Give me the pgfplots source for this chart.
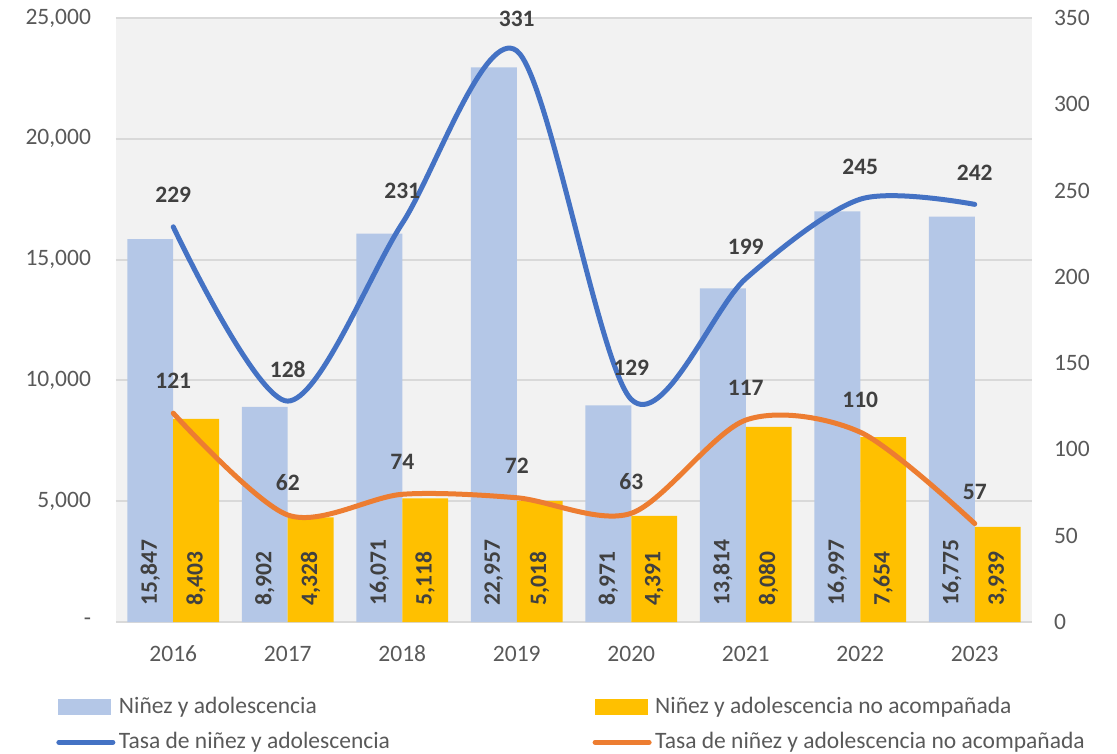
\documentclass[border=0pt]{standalone}
\usepackage{pgfplots}
\pgfplotsset{compat=1.18}
\usepackage{fontspec}
\setmainfont{Carlito}
\definecolor{barblue}{HTML}{B4C7E7}
\definecolor{baryel}{HTML}{FFC000}
\definecolor{lineblue}{HTML}{4472C4}
\definecolor{lineor}{HTML}{ED7D31}
\definecolor{tickgray}{HTML}{595959}
\definecolor{lblgray}{HTML}{404040}
\definecolor{gridgray}{HTML}{D9D9D9}
\definecolor{bggray}{HTML}{F2F2F2}
\pgfplotsset{/pgf/number format/assume math mode=true}
\newcommand{\fs}{\fontsize{11.8}{14}\selectfont}
\begin{document}
\begin{tikzpicture}
\path[use as bounding box] (-58bp,-66bp) rectangle (500.5bp,311bp);
\begin{axis}[
  at={(0,0)}, anchor=south west,
  scale only axis, width=458bp, height=302bp,
  xmin=-0.5, xmax=7.5, ymin=0, ymax=25000,
  axis background/.style={fill=bggray},
  separate axis lines,
  axis x line*=bottom, axis y line*=left,
  y axis line style={draw=none},
  x axis line style={draw=gridgray, line width=1bp},
  ymajorgrids, grid style={draw=gridgray, line width=1bp},
  major tick length=0pt,
  xtick={0,1,2,3,4,5,6,7},
  xticklabels={2016,2017,2018,2019,2020,2021,2022,2023},
  ytick={0,5000,10000,15000,20000,25000},
  yticklabels={{-},{5,000},{10,000},{15,000},{20,000},{25,000}},
  tick label style={font=\fs, text=tickgray},
  yticklabel style={xshift=-9bp},
  xticklabel style={yshift=-8bp, text height=8bp, text depth=0bp},
  /pgf/number format/1000 sep={,},
  clip=false,
]
\addplot[ybar, bar width=0.4, bar shift=-0.2, fill=barblue, draw=none]
  coordinates {(0,15847) (1,8902) (2,16071) (3,22957) (4,8971) (5,13814) (6,16997) (7,16775)};
\addplot[ybar, bar width=0.4, bar shift=0.2, fill=baryel, draw=none]
  coordinates {(0,8403) (1,4328) (2,5118) (3,5018) (4,4391) (5,8080) (6,7654) (7,3939)};
% value labels at the base of each bar
\addplot[draw=none, mark=none, point meta=explicit,
  nodes near coords,
  every node near coord/.append style={font=\bfseries\fs, text=lblgray, rotate=90, anchor=west, inner xsep=8.3bp, inner ysep=2bp}]
  coordinates {(-0.2,0) [15847] (0.8,0) [8902] (1.8,0) [16071] (2.8,0) [22957]
               (3.8,0) [8971] (4.8,0) [13814] (5.8,0) [16997] (6.8,0) [16775]};
\addplot[draw=none, mark=none, point meta=explicit,
  nodes near coords,
  every node near coord/.append style={font=\bfseries\fs, text=lblgray, rotate=90, anchor=west, inner xsep=8.3bp, inner ysep=2bp}]
  coordinates {(0.2,0) [8403] (1.2,0) [4328] (2.2,0) [5118] (3.2,0) [5018]
               (4.2,0) [4391] (5.2,0) [8080] (6.2,0) [7654] (7.2,0) [3939]};
\end{axis}
\begin{axis}[
  at={(0,0)}, anchor=south west,
  scale only axis, width=458bp, height=302bp,
  xmin=-0.5, xmax=7.5, ymin=0, ymax=350,
  axis x line=none, axis y line*=right,
  y axis line style={draw=none},
  major tick length=0pt,
  ytick={0,50,100,150,200,250,300,350},
  tick label style={font=\fs, text=tickgray},
  yticklabel style={xshift=7.5bp},
  clip=false,
  legend columns=2,
  legend cell align=left,
  legend style={draw=none, fill=none, at={(0,0)}, anchor=north west,
    xshift=-33bp, yshift=-33.5bp, font=\fs, text=tickgray, row sep=4bp,
    nodes={inner xsep=1.8bp},
    /tikz/every even column/.append style={column sep=99.5bp}},
]
\addlegendimage{legend image code/.code={\fill[barblue] (0bp,-3.6bp) rectangle (26bp,3.6bp);}}
\addlegendentry{Niñez y adolescencia}
\addlegendimage{legend image code/.code={\fill[baryel] (0bp,-3.6bp) rectangle (26bp,3.6bp);}}
\addlegendentry{Niñez y adolescencia no acompañada}
\addplot[lineblue, line width=2.5bp, line cap=round, smooth, mark=none,
  legend image code/.code={\draw[lineblue, line width=2.5bp, line cap=round] (0bp,0bp) -- (27bp,0bp);},
  nodes near coords,
  every node near coord/.append style={font=\bfseries\fs, text=lblgray, anchor=center, yshift=16bp}]
  coordinates {(0,229) (1,128) (2,231) (3,331) (4,129) (5,199) (6,245) (7,242)};
\addlegendentry{Tasa de niñez y adolescencia}
\addplot[lineor, line width=2.5bp, line cap=round, smooth, mark=none,
  legend image code/.code={\draw[lineor, line width=2.5bp, line cap=round] (0bp,0bp) -- (27bp,0bp);},
  nodes near coords,
  every node near coord/.append style={font=\bfseries\fs, text=lblgray, anchor=center, yshift=16bp}]
  coordinates {(0,121) (1,62) (2,74) (3,72) (4,63) (5,117) (6,110) (7,57)};
\addlegendentry{Tasa de niñez y adolescencia no acompañada}
\end{axis}
\end{tikzpicture}
\end{document}
